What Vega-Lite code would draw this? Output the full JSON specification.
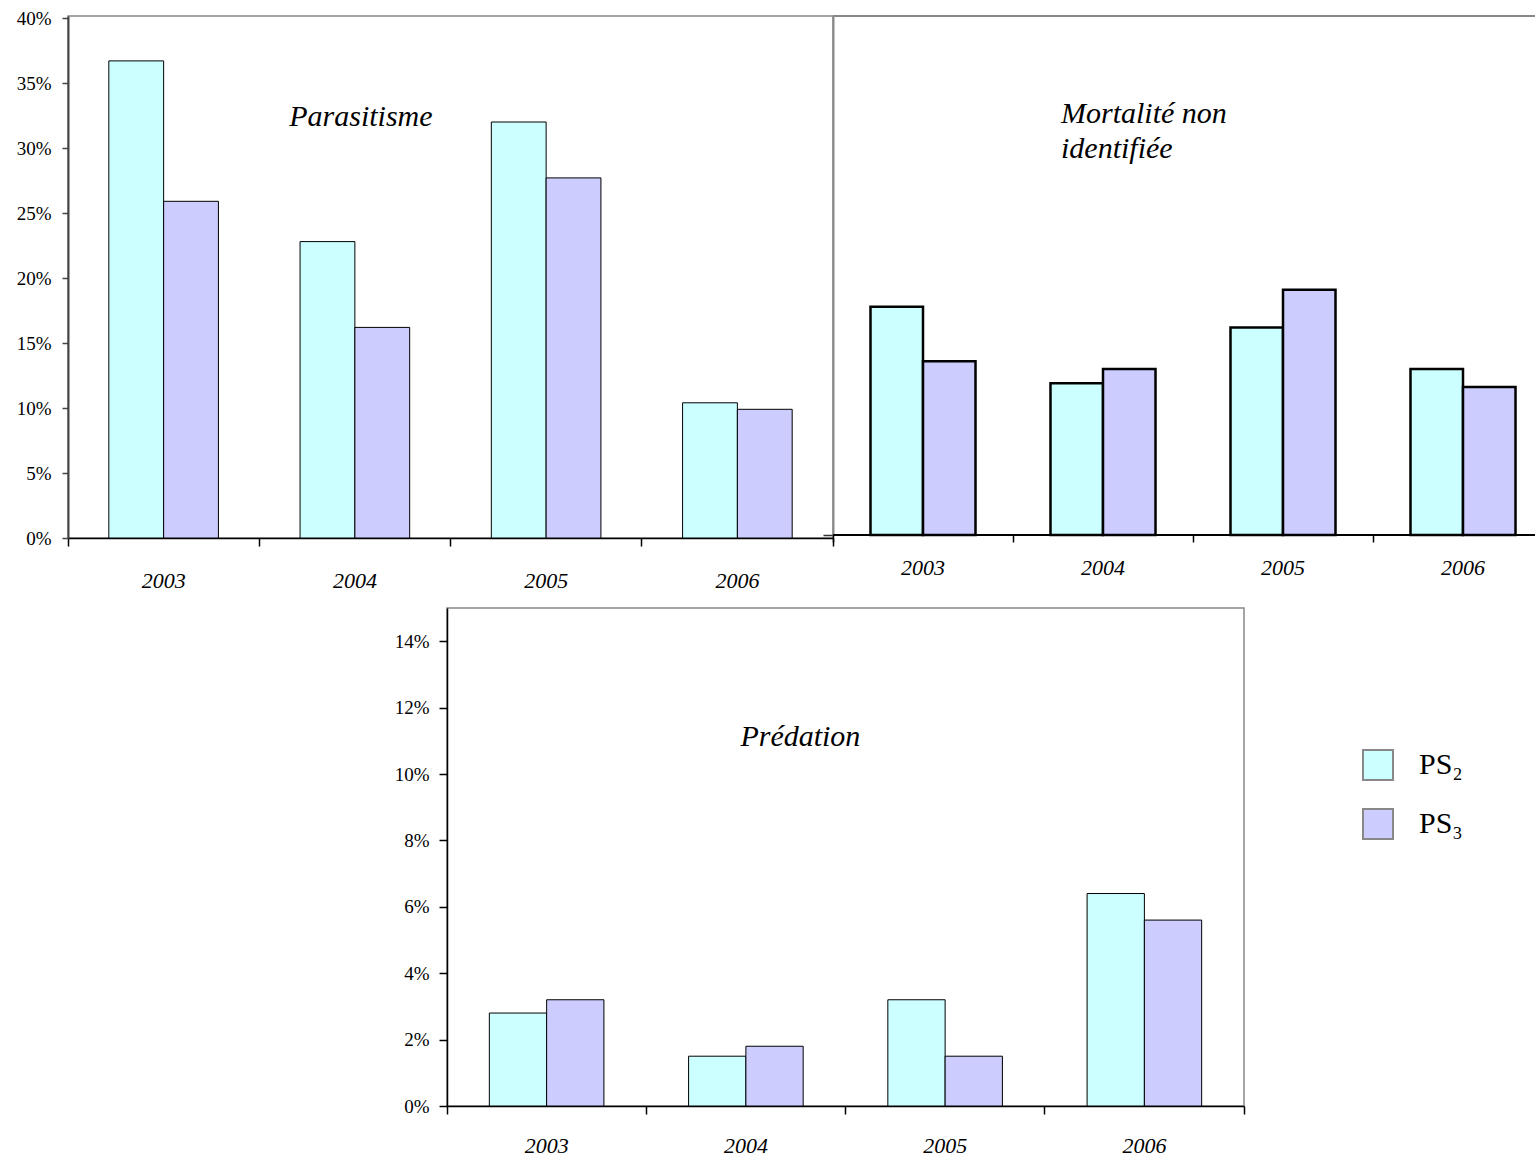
{
  "$schema": "https://vega.github.io/schema/vega-lite/v6.json",
  "padding": {"left": 15, "top": 8, "right": 0, "bottom": 0},
  "background": "white",
  "config": {
    "font": "Liberation Serif",
    "view": {"stroke": null},
    "axis": {"grid": false, "labelColor": "black", "labelFont": "Liberation Serif", "title": null}
  },
  "data": {
    "values": [
      {"panel": "para", "year": "2003", "series": "PS₂", "value": 0.367},
      {"panel": "para", "year": "2003", "series": "PS₃", "value": 0.259},
      {"panel": "para", "year": "2004", "series": "PS₂", "value": 0.228},
      {"panel": "para", "year": "2004", "series": "PS₃", "value": 0.162},
      {"panel": "para", "year": "2005", "series": "PS₂", "value": 0.320},
      {"panel": "para", "year": "2005", "series": "PS₃", "value": 0.277},
      {"panel": "para", "year": "2006", "series": "PS₂", "value": 0.104},
      {"panel": "para", "year": "2006", "series": "PS₃", "value": 0.099},
      {"panel": "mort", "year": "2003", "series": "PS₂", "value": 0.176},
      {"panel": "mort", "year": "2003", "series": "PS₃", "value": 0.134},
      {"panel": "mort", "year": "2004", "series": "PS₂", "value": 0.117},
      {"panel": "mort", "year": "2004", "series": "PS₃", "value": 0.128},
      {"panel": "mort", "year": "2005", "series": "PS₂", "value": 0.160},
      {"panel": "mort", "year": "2005", "series": "PS₃", "value": 0.189},
      {"panel": "mort", "year": "2006", "series": "PS₂", "value": 0.128},
      {"panel": "mort", "year": "2006", "series": "PS₃", "value": 0.114},
      {"panel": "pred", "year": "2003", "series": "PS₂", "value": 0.028},
      {"panel": "pred", "year": "2003", "series": "PS₃", "value": 0.032},
      {"panel": "pred", "year": "2004", "series": "PS₂", "value": 0.015},
      {"panel": "pred", "year": "2004", "series": "PS₃", "value": 0.018},
      {"panel": "pred", "year": "2005", "series": "PS₂", "value": 0.032},
      {"panel": "pred", "year": "2005", "series": "PS₃", "value": 0.015},
      {"panel": "pred", "year": "2006", "series": "PS₂", "value": 0.064},
      {"panel": "pred", "year": "2006", "series": "PS₃", "value": 0.056}
    ]
  },
  "resolve": {"scale": {"xOffset": "independent"}},
  "spacing": 15,
  "vconcat": [
    {
      "hconcat": [
        {
          "width": 765,
          "height": 522,
          "view": {"stroke": "#888", "strokeWidth": 1.5},
          "layer": [
            {
              "transform": [{"filter": "datum.panel === 'para'"}],
              "mark": {"type": "bar", "stroke": "black", "strokeWidth": 1},
              "encoding": {
                "x": {"field": "year", "type": "nominal", "scale": {"paddingInner": 0, "paddingOuter": 0},
                  "axis": {"bandPosition": 1, "tickExtra": true, "labelOffset": 0, "labelAngle": 0, "domainColor": "black", "domainWidth": 1.5, "tickColor": "black", "tickWidth": 1.5, "tickSize": 8, "labelFontSize": 22, "labelFontStyle": "italic", "labelBaseline": "alphabetic", "labelPadding": 41}},
                "xOffset": {"field": "series", "type": "nominal", "scale": {"paddingInner": 0, "paddingOuter": 0.745}},
                "y": {"field": "value", "type": "quantitative", "scale": {"domain": [0, 0.40154], "nice": false},
                  "axis": {"values": [0, 0.05, 0.1, 0.15, 0.2, 0.25, 0.3, 0.35, 0.4], "format": ".0%", "tickSize": 6, "labelPadding": 11, "labelFontSize": 19, "domainColor": "#444", "domainWidth": 2, "tickColor": "#444", "tickWidth": 1.5}},
                "color": {"field": "series", "type": "nominal", "scale": {"domain": ["PS₂", "PS₃"], "range": ["#CCFFFF", "#CCCCFF"]},
                  "legend": {"title": null, "orient": "none", "legendX": 1294, "legendY": 733, "symbolType": "square", "symbolSize": 900, "symbolStrokeColor": "#888", "symbolStrokeWidth": 2, "labelFontSize": 30, "labelFont": "Liberation Serif", "labelColor": "black", "labelOffset": 25, "rowPadding": 21}}
              }
            },
            {
              "data": {"values": [{"t": "Parasitisme"}]},
              "mark": {"type": "text", "fontSize": 30, "fontStyle": "italic", "align": "center", "baseline": "alphabetic", "dx": 6, "color": "black"},
              "encoding": {"x": {"datum": "2004"}, "y": {"datum": 0.3173}, "text": {"field": "t"}}
            }
          ]
        },
        {
          "width": 702,
          "height": 519,
          "layer": [
            {
              "transform": [{"filter": "datum.panel === 'mort'"}],
              "mark": {"type": "bar", "stroke": "black", "strokeWidth": 2.5},
              "encoding": {
                "x": {"field": "year", "type": "nominal", "scale": {"range": [0, 720], "paddingInner": 0, "paddingOuter": 0},
                  "axis": {"bandPosition": 0, "labelOffset": 0, "labelAngle": 0, "domain": false, "tickColor": "black", "tickWidth": 1.5, "tickSize": 7, "labelFontSize": 22, "labelFontStyle": "italic", "labelBaseline": "alphabetic", "labelPadding": 32}},
                "xOffset": {"field": "series", "type": "nominal", "scale": {"paddingInner": 0, "paddingOuter": 0.714}},
                "y": {"field": "value", "type": "quantitative", "scale": {"domain": [0, 0.4], "nice": false},
                  "axis": {"values": [0], "labels": false, "tickSize": 10, "tickColor": "#333", "tickWidth": 1.5, "domainColor": "#888", "domainWidth": 2}},
                "color": {"field": "series", "type": "nominal", "scale": {"domain": ["PS₂", "PS₃"], "range": ["#CCFFFF", "#CCCCFF"]},
                  "legend": {"title": null, "orient": "none", "legendX": 1294, "legendY": 733, "symbolType": "square", "symbolSize": 900, "symbolStrokeColor": "#888", "symbolStrokeWidth": 2, "labelFontSize": 30, "labelFont": "Liberation Serif", "labelColor": "black", "labelOffset": 25, "rowPadding": 21}}
              }
            },
            {
              "data": {"values": [{}]},
              "mark": {"type": "rule", "color": "#888", "strokeWidth": 2},
              "encoding": {"y": {"datum": 0.4}}
            },
            {
              "data": {"values": [{}]},
              "mark": {"type": "rule", "color": "black", "strokeWidth": 2},
              "encoding": {"y": {"datum": 0}}
            },
            {
              "data": {"values": [{"t": ["Mortalité non", "identifiée"]}]},
              "mark": {"type": "text", "fontSize": 30, "fontStyle": "italic", "align": "left", "baseline": "alphabetic", "dx": -42, "lineHeight": 35, "color": "black"},
              "encoding": {"x": {"datum": "2004"}, "y": {"datum": 0.3173}, "text": {"field": "t"}}
            }
          ]
        }
      ],
      "spacing": 0,
      "bounds": "flush",
      "resolve": {"scale": {"xOffset": "independent"}}
    },
    {
      "hconcat": [
        {
          "width": 379,
          "height": 10,
          "data": {"values": [{}]},
          "mark": {"type": "point", "opacity": 0},
          "encoding": {}
        },
        {
          "width": 797,
          "height": 498,
          "view": {"stroke": "#888", "strokeWidth": 1.5},
          "layer": [
            {
              "transform": [{"filter": "datum.panel === 'pred'"}],
              "mark": {"type": "bar", "stroke": "black", "strokeWidth": 1},
              "encoding": {
                "x": {"field": "year", "type": "nominal", "scale": {"paddingInner": 0, "paddingOuter": 0},
                  "axis": {"bandPosition": 1, "tickExtra": true, "labelOffset": 0, "labelAngle": 0, "domainColor": "black", "domainWidth": 1.5, "tickColor": "black", "tickWidth": 1.5, "tickSize": 8, "labelFontSize": 22, "labelFontStyle": "italic", "labelBaseline": "alphabetic", "labelPadding": 38}},
                "xOffset": {"field": "series", "type": "nominal", "scale": {"paddingInner": 0, "paddingOuter": 0.739}},
                "y": {"field": "value", "type": "quantitative", "scale": {"domain": [0, 0.15], "nice": false},
                  "axis": {"values": [0, 0.02, 0.04, 0.06, 0.08, 0.1, 0.12, 0.14], "format": ".0%", "tickSize": 8, "labelPadding": 10, "labelFontSize": 19, "domainColor": "black", "domainWidth": 1.5, "tickColor": "black", "tickWidth": 1.5}},
                "color": {"field": "series", "type": "nominal", "scale": {"domain": ["PS₂", "PS₃"], "range": ["#CCFFFF", "#CCCCFF"]},
                  "legend": {"title": null, "orient": "none", "legendX": 1294, "legendY": 733, "symbolType": "square", "symbolSize": 900, "symbolStrokeColor": "#888", "symbolStrokeWidth": 2, "labelFontSize": 30, "labelFont": "Liberation Serif", "labelColor": "black", "labelOffset": 25, "rowPadding": 21}}
              }
            },
            {
              "data": {"values": [{"t": "Prédation"}]},
              "mark": {"type": "text", "fontSize": 30, "fontStyle": "italic", "align": "center", "baseline": "alphabetic", "dx": 54.5, "color": "black"},
              "encoding": {"x": {"datum": "2004"}, "y": {"datum": 0.1084}, "text": {"field": "t"}}
            }
          ]
        }
      ],
      "spacing": 0,
      "bounds": "flush",
      "resolve": {"scale": {"xOffset": "independent"}}
    }
  ]
}
